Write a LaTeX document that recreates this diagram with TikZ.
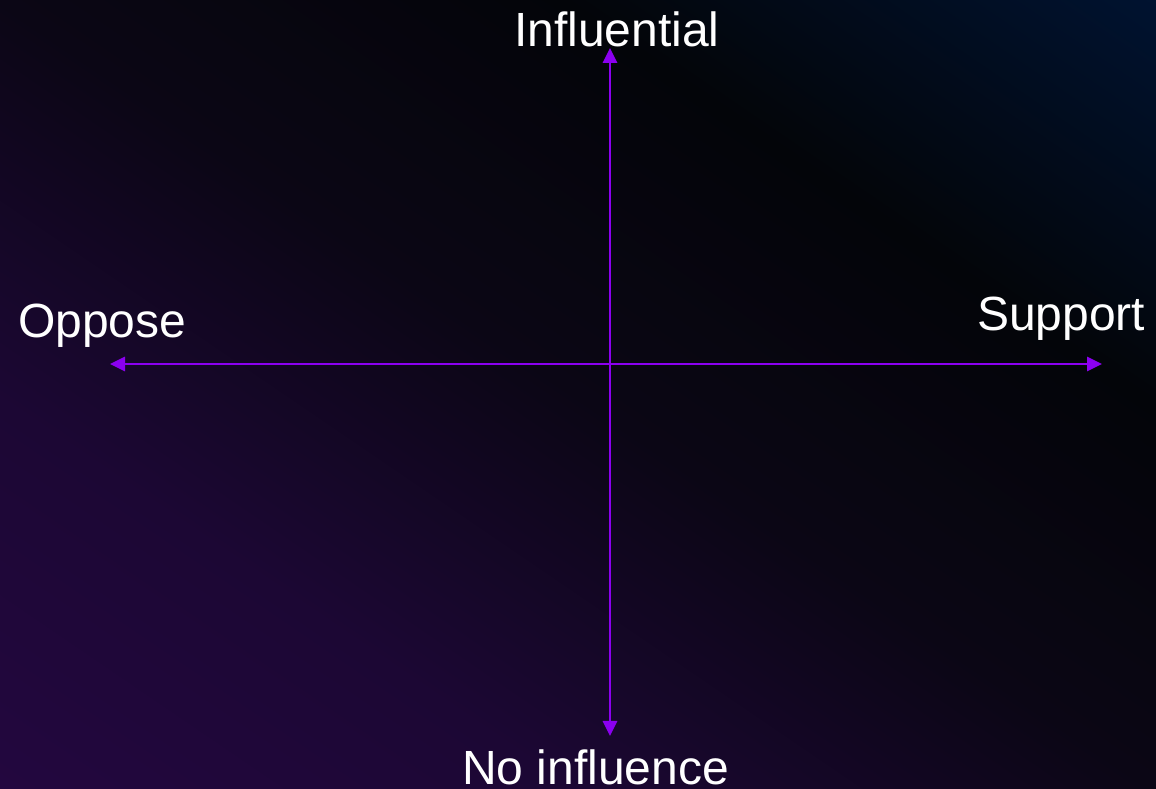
\documentclass[tikz,border=0pt]{standalone}
\usepackage{fontspec}
\setmainfont{Liberation Sans}
\usetikzlibrary{arrows.meta}
\definecolor{bgA}{HTML}{23073F}
\definecolor{bgB}{HTML}{1C0734}
\definecolor{bgC}{HTML}{0B0615}
\definecolor{bgD}{HTML}{030509}
\definecolor{bgE}{HTML}{001331}
\definecolor{axiscol}{HTML}{8B00F0}
\tikzset{
  axis/.style={draw=axiscol, line width=2.8pt, {Triangle[length=15pt,width=14pt]}-{Triangle[length=15pt,width=14pt]}},
  lbl/.style={text=white, inner sep=0pt, anchor=base west, font=\fontsize{48}{57}\selectfont}
}
\begin{document}
\begin{tikzpicture}[x=1pt,y=1pt]
\useasboundingbox (0,0) rectangle (1156,789);
\begin{scope}
  \clip (0,0) rectangle (1156,789);
  \begin{scope}[transform canvas={rotate=55.7}]
    \shade[left color=bgA, right color=bgB] (-1,-1000) rectangle (321.5,500);
    \shade[left color=bgB, right color=bgC] (320.5,-1000) rectangle (651.5,500);
    \shade[left color=bgC, right color=bgD] (650.5,-1000) rectangle (970.5,500);
    \shade[left color=bgD, right color=bgE] (969.5,-1000) rectangle (1310,500);
  \end{scope}
\end{scope}
\coordinate (L) at (110,425);
\coordinate (R) at (1102,425);
\coordinate (T) at (610,741);
\coordinate (B) at (610,53);
\draw[axis] (L) -- (R);
\draw[axis] (B) -- (T);
\node[lbl] (inf) at (514,742) {Influential};
\node[lbl] (opp) at (18,451) {Oppose};
\node[lbl] (sup) at (977,458) {Support};
\node[lbl] (noi) at (462,4) {No influence};
\end{tikzpicture}
\end{document}
